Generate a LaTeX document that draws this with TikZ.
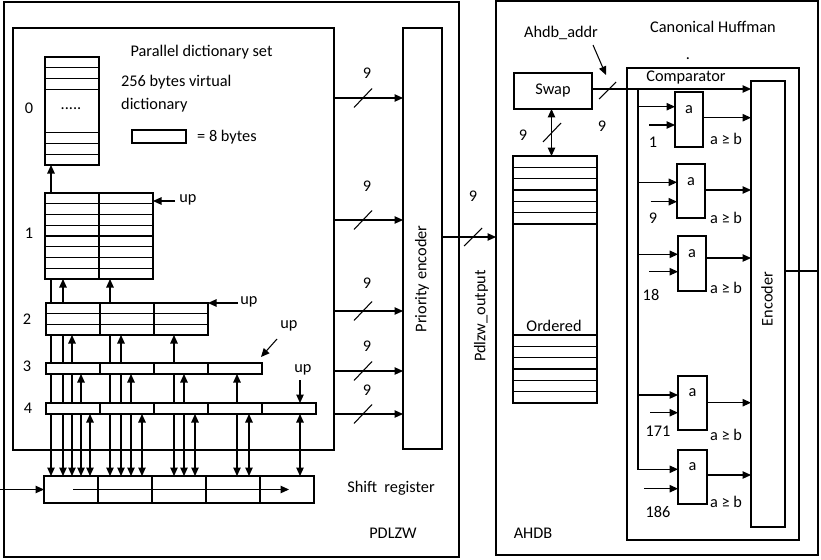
\documentclass[tikz,border=0pt]{standalone}
\usepackage{fontspec}
\setmainfont{Carlito}
\usetikzlibrary{arrows.meta,fit,calc}
\newcommand\bx[5]{\node[box, fit={(#2,#3) (#4,#5)}] (#1) {};}
\begin{document}
\begin{tikzpicture}[x=1pt,y=-1pt,
  box/.style={draw, line width=1.05pt, inner sep=0pt, outer sep=0pt},
  lbl/.style={inner sep=0pt, font=\fontsize{16.3}{19}\selectfont},
  ln/.style={line width=1.05pt},
  arr/.style={-{Triangle[length=8.5pt,width=7.5pt]}, line width=1.05pt},
  darr/.style={{Triangle[length=8.5pt,width=7.5pt]}-{Triangle[length=8.5pt,width=7.5pt]}, line width=1.05pt}]
\useasboundingbox (0,0) rectangle (821,559);
% ---------- boxes ----------
\bx{pdlzw}{4}{2}{459}{557}
\bx{inner}{13}{28}{334}{450}
\bx{d0}{45}{57}{99}{165}
\bx{d1}{45}{193}{153}{279}
\bx{d2}{46}{303}{208}{335}
\bx{d3}{46}{363}{262}{374}
\bx{d4}{46}{403}{316}{414}
\bx{sr}{44}{476}{314}{503}
\bx{legend}{132}{130}{186}{143}
\bx{prio}{403}{28}{442}{449}
\bx{ahdb}{496}{1}{818}{555}
\bx{swap}{514}{73}{592}{109}
\bx{ord}{513}{156}{597}{403}
\bx{cmp}{627}{68}{799}{540}
\bx{enc}{751}{81}{785}{527}
\bx{c1}{675}{92}{703}{147}
\bx{c2}{677}{164}{705}{218}
\bx{c3}{678}{236}{706}{291}
\bx{c4}{678}{376}{707}{430}
\bx{c5}{678}{450}{707}{504}
% ---------- inner rows / dividers ----------
\foreach \y in {67.75,78.5,89.25,132.75,143.5,154.25}
  \draw[ln] (d0.west |- 0,\y) -- (d0.east |- 0,\y);
\foreach \y in {203.75,214.5,225.25,236,246.75,257.5,268.25}
  \draw[ln] (d1.west |- 0,\y) -- (d1.east |- 0,\y);
\draw[ln] (d1.north -| 99,0) -- (d1.south -| 99,0);
\foreach \y in {313.67,324.33}
  \draw[ln] (d2.west |- 0,\y) -- (d2.east |- 0,\y);
\foreach \x in {100,154}
  \draw[ln] (d2.north -| \x,0) -- (d2.south -| \x,0);
\foreach \x in {100,154,208}
  \draw[ln] (d3.north -| \x,0) -- (d3.south -| \x,0);
\foreach \x in {100,154,208,262}
  \draw[ln] (d4.north -| \x,0) -- (d4.south -| \x,0);
\foreach \x in {98,152,206,260}
  \draw[ln] (sr.north -| \x,0) -- (sr.south -| \x,0);
\foreach \y in {167.33,178.67,190,201.33,212.67,224,335,346.33,357.67,369,380.33,391.67}
  \draw[ln] (ord.west |- 0,\y) -- (ord.east |- 0,\y);
% ---------- vertical arrows between dictionaries ----------
\draw[arr] (d1.north -| 51,0) -- (d0.south -| 51,0);
\draw[ln] (d2.north -| 51,0) -- (d1.south -| 51,0);
\foreach \x in {63,110} \draw[arr] (d2.north -| \x,0) -- (d1.south -| \x,0);
\foreach \x in {51,63,110} \draw[ln] (d3.north -| \x,0) -- (d2.south -| \x,0);
\foreach \x in {72,121,174} \draw[arr] (d3.north -| \x,0) -- (d2.south -| \x,0);
\foreach \x in {51,63,72,110,121,174} \draw[ln] (d4.north -| \x,0) -- (d3.south -| \x,0);
\foreach \x in {81,131,184,237} \draw[arr] (d4.north -| \x,0) -- (d3.south -| \x,0);
\foreach \x in {51,63,72,81,110,121,131,174,184,237} \draw[arr] (d4.south -| \x,0) -- (sr.north -| \x,0);
\foreach \x in {90,142,195,249,300} \draw[darr] (d4.south -| \x,0) -- (sr.north -| \x,0);
% ---------- up arrows ----------
\coordinate (up1) at (175,201);
\draw[arr] (up1) -- (d1.east |- up1);
\coordinate (up2) at (238,303);
\draw[arr] (up2) -- (d2.east |- up2);
\coordinate (up3s) at (277,339);
\coordinate (up3e) at ($(d3.north east)+(-1,-6)$);
\draw[arr] (up3s) -- (up3e);
\coordinate (up4) at (300,380);
\draw[arr] (up4) -- (d4.north -| up4);
% ---------- shift register ----------
\coordinate (srin) at (0,489.5);
\draw[arr] (srin) -- (sr.west |- srin);
\coordinate (sh1) at (73,489.5);
\coordinate (sh2) at (289,489.5);
\draw[arr] (sh1) -- (sh2);
% ---------- 9-bit buses to priority encoder ----------
\foreach \y/\ly [count=\i] in {98/73,220/186,311/283,371/346,414/390} {
  \draw[arr] (inner.east |- 0,\y) -- (prio.west |- 0,\y);
  \draw[ln] (354,{\y+9.5}) -- (372,{\y-9.5});
  \node[lbl] (nine\i) at (367,\ly) {9};
}
\draw[arr] (prio.east |- 0,237) -- (ahdb.west |- 0,237);
\draw[ln] (464,246) -- (482,228);
\node[lbl] (nineP) at (473,196) {9};
% ---------- AHDB ----------
\draw[darr] (swap.south -| 551.5,0) -- (ord.north -| 551.5,0);
\draw[ln] (543,142) -- (561,123);
\node[lbl] (nineS) at (523,135) {9};
\draw[arr] (swap.east |- 0,89) -- (enc.west |- 0,89);
\draw[ln] (599,99) -- (616,82);
\node[lbl] (nineC) at (602,126) {9};
\coordinate (aa1) at (593,45);
\coordinate (aa2) at (606,75);
\draw[arr] (aa1) -- (aa2);
% bus inside comparator
\coordinate (bustop) at (638,89);
\coordinate (busbot) at (638,469.3);
\draw[arr] (bustop) -- (busbot) -- (c5.west |- busbot);
\foreach \c/\ya in {c1/106.7, c2/182.3, c3/254.3, c4/395} {
  \draw[arr] (bustop |- 0,\ya) -- (\c.west |- 0,\ya);
}
\foreach \c/\xb/\yb/\yo in {c1/649/125/117.7, c2/650.7/201.7/190, c3/649/271.7/258, c4/650/412.7/402.7, c5/644.3/488.7/475} {
  \coordinate (in\c) at (\xb,\yb);
  \draw[arr] (in\c) -- (\c.west |- in\c);
  \draw[arr] (\c.east |- 0,\yo) -- (enc.west |- 0,\yo);
}
\draw[ln] (enc.east |- 0,271) -- (ahdb.east |- 0,271);
% ---------- texts ----------
\node[lbl] (tpds) at (201.5,52) {Parallel dictionary set};
\node[lbl,anchor=west] (t256) at (121,82) {256 bytes virtual};
\node[lbl,anchor=west] (tdict) at (121,105) {dictionary};
\node[lbl,anchor=west] (t8b) at (197,137) {= 8 bytes};
\node[lbl] (tdots) at (71,109) {.....};
\node[lbl] (l0) at (29,108) {0};
\node[lbl] (l1) at (29,233) {1};
\node[lbl] (l2) at (27,319) {2};
\node[lbl] (l3) at (27,366) {3};
\node[lbl] (l4) at (28,408) {4};
\node[lbl] (tup1) at (188,200) {up};
\node[lbl] (tup2) at (249,302) {up};
\node[lbl] (tup3) at (289,326) {up};
\node[lbl] (tup4) at (303,370) {up};
\node[lbl,rotate=90] (tprio) at (422,279) {Priority encoder};
\node[lbl,rotate=90] (tpout) at (481,316) {Pdlzw\_output};
\node[lbl] (tsr) at (391,488) {Shift\ \ register};
\node[lbl] (tpdlzw) at (393,533) {PDLZW};
\node[lbl] (tahdb) at (533,533) {AHDB};
\node[lbl] (taddr) at (561,33) {Ahdb\_addr};
\node[lbl] (tch) at (713,27) {Canonical Huffman};
\node[lbl] (tdot) at (688,59) {.};
\node[lbl] (tswap) at (553,91) {Swap};
\node[lbl] (tord) at (554,326) {Ordered};
\node[lbl] (tcmp) at (686,78) {Comparator};
\node[lbl,rotate=90] (tenc) at (767,299) {Encoder};
\foreach \c/\ya/\ge/\n/\nx/\ny in {c1/110/139/1/653/142, c2/182/218/9/653/218, c3/254/288/18/651/295, c4/393/435/171/658/431, c5/467/502/186/658/512} {
  \node[lbl] (a\c) at (\c.center |- 0,\ya) {a};
  \node[lbl] (g\c) at (726,\ge) {a ≥ b};
  \node[lbl] (n\c) at (\nx,\ny) {\n};
}
\end{tikzpicture}
\end{document}
